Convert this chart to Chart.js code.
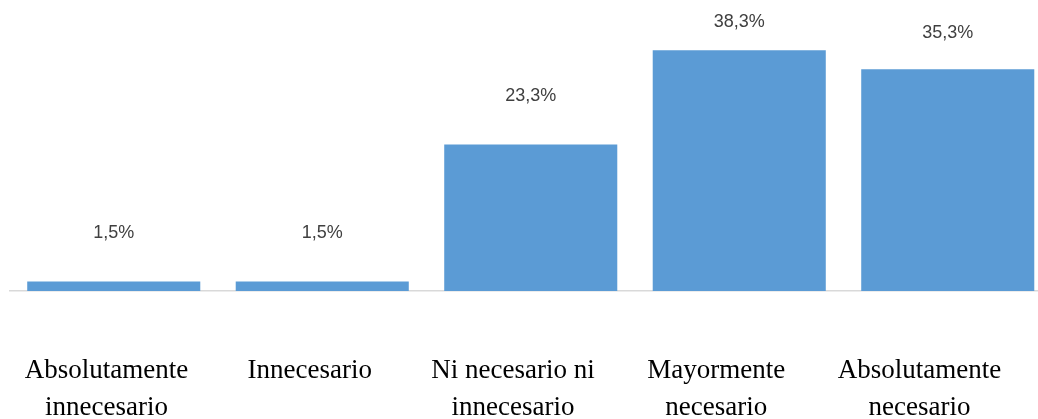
<!DOCTYPE html>
<html>
<head>
<meta charset="utf-8">
<script src="https://cdn.jsdelivr.net/npm/chart.js@4/dist/chart.umd.min.js"></script>
<style>
  html, body { margin: 0; padding: 0; background: #fff; overflow: hidden; }
  canvas { display: block; }
</style>
</head>
<body>
<canvas id="grafik" width="1060" height="419"></canvas>
<script>
// Datos del gráfico
const categorias = [
  ["Absolutamente", "innecesario"],
  ["Innecesario"],
  ["Ni necesario ni", "innecesario"],
  ["Mayormente", "necesario"],
  ["Absolutamente", "necesario"]
];
const porcentajes = [1.5, 1.5, 23.3, 38.3, 35.3];

// distancia de cada etiqueta sobre su barra (estilo)
const separacionEtiqueta = [49, 49, 49, 28, 36];

// Plugin simple para escribir los valores encima de las barras
const etiquetasValor = {
  id: "etiquetasValor",
  afterDatasetsDraw(chart) {
    const ctx = chart.ctx;
    const meta = chart.getDatasetMeta(0);
    ctx.save();
    ctx.font = "18px 'Liberation Sans', Arial, sans-serif";
    ctx.fillStyle = "#404040";
    ctx.textAlign = "center";
    ctx.textBaseline = "middle";
    meta.data.forEach((bar, i) => {
      const texto = porcentajes[i].toFixed(1).replace(".", ",") + "%";
      ctx.fillText(texto, bar.x, bar.y - separacionEtiqueta[i]);
    });
    ctx.restore();
  }
};

const ctx = document.getElementById("grafik").getContext("2d");
new Chart(ctx, {
  type: "bar",
  data: {
    labels: categorias,
    datasets: [
      {
        data: porcentajes,
        backgroundColor: "#5b9bd5",
        borderWidth: 0,
        categoryPercentage: 1,
        barPercentage: 0.83
      }
    ]
  },
  options: {
    responsive: false,
    animation: false,
    layout: { padding: { left: 9.5, right: 8, top: 0, bottom: 0 } },
    scales: {
      x: {
        display: false
      },
      // eje de etiquetas (en el original quedan un poco corridas respecto a las barras)
      etiquetas: {
        type: "linear",
        position: "bottom",
        offset: false,
        bounds: "data",
        min: -0.477,
        max: 4.652,
        grid: { display: false, offset: false },
        border: { display: true, color: "#d9d9d9", width: 1.5 },
        afterBuildTicks(scale) {
          scale.ticks = categorias.map((c, i) => ({ value: i }));
        },
        ticks: {
          color: "#000",
          padding: 54,
          maxRotation: 0,
          autoSkip: false,
          callback: (value) => categorias[value],
          font: { family: "'Liberation Serif', 'Times New Roman', serif", size: 27, lineHeight: 1.35 }
        },
        afterFit(scale) {
          scale.height = 128;
          scale.paddingLeft = 0;
          scale.paddingRight = 0;
        }
      },
      y: {
        display: false,
        min: 0,
        max: 46.3
      }
    },
    plugins: {
      legend: { display: false },
      tooltip: { enabled: false }
    }
  },
  plugins: [etiquetasValor]
});
</script>
</body>
</html>
